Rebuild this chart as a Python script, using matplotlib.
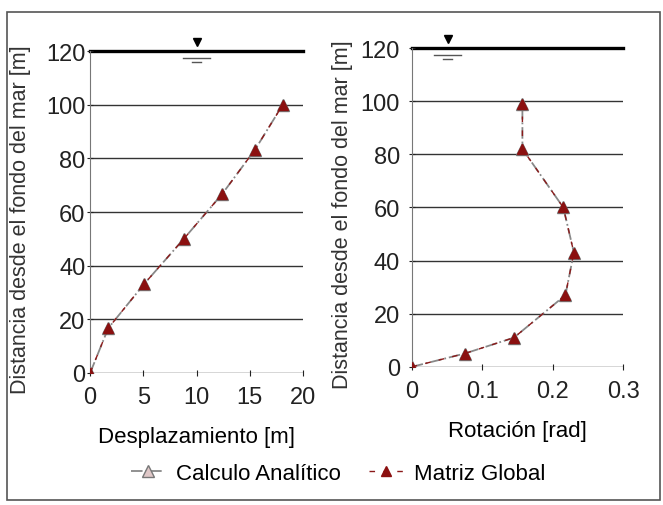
import matplotlib.pyplot as plt
from matplotlib.patches import Rectangle

plt.rcParams['font.family'] = ['Liberation Sans', 'DejaVu Sans']

# desplazamiento (left panel)
h_desp = [0, 16.7, 33.3, 50, 66.7, 83.3, 100]
desp_analitico = [0, 1.7, 5.1, 8.8, 12.4, 15.5, 18.1]
desp_global = [0, 1.7, 5.1, 8.8, 12.4, 15.5, 18.1]

# rotacion (right panel)
h_rot = [0, 5, 11, 27, 43, 60, 82, 99]
rot_analitico = [0, 0.075, 0.145, 0.218, 0.23, 0.215, 0.157, 0.157]
rot_global = [0, 0.075, 0.145, 0.218, 0.23, 0.215, 0.157, 0.157]

ylabel = 'Distancia desde el fondo del mar [m]'
yticks = [0, 20, 40, 60, 80, 100, 120]

fig = plt.figure(figsize=(6.63, 5.06), dpi=100)
ax1 = fig.add_axes([0.136, 0.261, 0.321, 0.636])
ax2 = fig.add_axes([0.621, 0.273, 0.319, 0.630])


def style(ax, xlim, xticks, xticklabels, xlabel, wx, ypad, lab_x):
    ax.set_xlim(*xlim)
    ax.set_ylim(0, 120)
    ax.set_xticks(xticks)
    ax.set_xticklabels(xticklabels)
    ax.set_yticks(yticks)
    for y in [20, 40, 60, 80, 100]:
        ax.axhline(y, color='#333333', lw=1.0, zorder=1)
    ax.axhline(120, color='black', lw=2.4, zorder=1, clip_on=False)
    ax.axhline(0, color='#333333', lw=1.0, zorder=1)
    for s in ['top', 'right', 'bottom']:
        ax.spines[s].set_visible(False)
    ax.spines['left'].set_color('#777777')
    ax.tick_params(direction='inout', length=5, labelsize=17, colors='#222222')
    ax.tick_params(axis='x', pad=7)
    ax.tick_params(axis='y', pad=ypad)
    ax.set_xlabel(xlabel, fontsize=16, labelpad=13)
    ax.set_ylabel(ylabel, fontsize=15.5, color='#333333')
    ax.yaxis.set_label_coords(lab_x, 0.48)
    # water level symbol
    ax.plot([wx], [123.5], marker='v', color='black', ms=6, clip_on=False)
    span = xlim[1] - xlim[0]
    ax.plot([wx - span * 0.065, wx + span * 0.065], [117.5, 117.5], color='#555555', lw=1)
    ax.plot([wx - span * 0.02, wx + span * 0.02], [116, 116], color='#555555', lw=1)


ax1.plot(desp_analitico, h_desp, color='#888888', ls='-.', lw=1.3, marker='^',
         ms=8, mfc='#e0c8c8', mec='#777777', zorder=3, label='Calculo Analítico')
ax1.plot(desp_global, h_desp, color='#8b1a1a', ls='--', lw=1.0, dashes=(4, 6), marker='^',
         ms=7, mfc='#8b1010', mec='#8b1010', zorder=4, label='Matriz Global')
style(ax1, (0, 20), [0, 5, 10, 15, 20], ['0', '5', '10', '15', '20'],
      'Desplazamiento [m]', 10, 1, -0.28)

ax2.plot(rot_analitico, h_rot, color='#888888', ls='-.', lw=1.3, marker='^',
         ms=8, mfc='#e0c8c8', mec='#777777', zorder=3)
ax2.plot(rot_global, h_rot, color='#8b1a1a', ls='--', lw=1.0, dashes=(4, 6), marker='^',
         ms=7, mfc='#8b1010', mec='#8b1010', zorder=4)
style(ax2, (0, 0.3), [0, 0.1, 0.2, 0.3], ['0', '0.1', '0.2', '0.3'],
      'Rotación [rad]', 0.051, 6, -0.28)

h1, l1 = ax1.get_legend_handles_labels()
fig.legend(h1, l1, loc='center', bbox_to_anchor=(0.51, 0.062), ncol=2, frameon=False,
           fontsize=16, handlelength=1.5, columnspacing=1.3, handletextpad=0.5)

fig.patches.append(Rectangle((0.01, 0.01), 0.985, 0.965, transform=fig.transFigure,
                             fill=False, edgecolor='#555555', lw=1.2))

fig.savefig('out.png', dpi=100)
